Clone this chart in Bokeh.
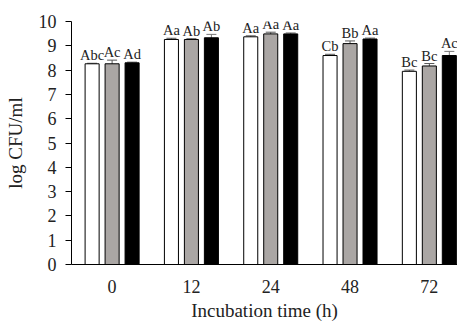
from bokeh.plotting import figure
from bokeh.models import Range1d, FixedTicker, ColumnDataSource, Whisker, TeeHead
from bokeh.embed import file_html
from bokeh.resources import INLINE
from bokeh.core.properties import value

# ---- data ----
times = ["0", "12", "24", "48", "72"]
series_names = ["white", "grey", "black"]
white_vals = [8.26, 9.26, 9.37, 8.60, 7.95]
white_err = [0.02, 0.05, 0.04, 0.05, 0.05]
grey_vals = [8.26, 9.26, 9.49, 9.09, 8.17]
grey_err = [0.15, 0.03, 0.07, 0.11, 0.10]
black_vals = [8.30, 9.33, 9.49, 9.28, 8.60]
black_err = [0.03, 0.14, 0.04, 0.04, 0.17]
white_labels = ["Abc", "Aa", "Aa", "Cb", "Bc"]
grey_labels = ["Ac", "Ab", "Aa", "Bb", "Bc"]
black_labels = ["Ad", "Ab", "Aa", "Aa", "Ac"]
y_ticks = [0, 1, 2, 3, 4, 5, 6, 7, 8, 9, 10]

fills = ["#ffffff", "#aaa6a4", "#000000"]
offsets = [-0.252, 0.0, 0.252]
bar_w = 0.177
FONT = "Liberation Serif"

p = figure(width=457, height=325, output_backend="svg", toolbar_location=None,
           x_range=Range1d(-0.512, 4.355), y_range=Range1d(0, 10),
           min_border_left=71, min_border_right=0, min_border_top=21,
           min_border_bottom=61)
p.outline_line_color = None
p.xgrid.grid_line_color = None
p.ygrid.grid_line_color = None
p.background_fill_color = "white"

all_vals = [white_vals, grey_vals, black_vals]
all_errs = [white_err, grey_err, black_err]
all_labels = [white_labels, grey_labels, black_labels]

for k in range(3):
    xs = [i + offsets[k] for i in range(len(times))]
    vals = all_vals[k]
    errs = all_errs[k]
    src = ColumnDataSource(dict(
        x=xs, top=vals,
        upper=[v + e for v, e in zip(vals, errs)],
        lower=[v - e for v, e in zip(vals, errs)],
        lab=all_labels[k]))
    p.vbar(x="x", top="top", bottom=0, width=bar_w, source=src,
           fill_color=fills[k], line_color="black", line_width=1)
    wcol = "#555555" if k < 2 else "#777777"
    w = Whisker(base="x", upper="upper", lower="lower", source=src,
                line_color=wcol, line_width=1,
                upper_head=TeeHead(size=10, line_color=wcol, line_width=1),
                lower_head=TeeHead(size=10, line_color=wcol, line_width=1))
    p.add_layout(w)
    p.text(x="x", y="upper", text="lab", source=src,
           text_font=value(FONT), text_font_size="14.5px",
           text_align="center", text_baseline="alphabetic",
           y_offset=-8, text_color="#222222")

# x axis
p.xaxis.ticker = FixedTicker(ticks=list(range(len(times))))
p.xaxis.major_label_overrides = {i: t for i, t in enumerate(times)}
p.xaxis.major_tick_line_color = None
p.xaxis.minor_tick_line_color = None
p.xaxis.major_tick_out = 0
p.xaxis.major_tick_in = 0
p.xaxis.major_label_standoff = 15
p.xaxis.axis_label = "Incubation time (h)"
p.xaxis.axis_label_standoff = 4
p.xaxis.axis_line_color = "black"

# y axis
p.yaxis.ticker = FixedTicker(ticks=y_ticks)
p.yaxis.minor_tick_line_color = None
p.yaxis.major_tick_out = 6
p.yaxis.major_tick_in = 0
p.yaxis.major_tick_line_color = "black"
p.yaxis.major_label_standoff = 9
p.yaxis.axis_label = "log CFU/ml"
p.yaxis.axis_label_standoff = 10
p.yaxis.axis_line_color = "black"

for ax in (p.xaxis, p.yaxis):
    ax.major_label_text_font = FONT
    ax.major_label_text_font_size = "18px"
    ax.major_label_text_color = "#222222"
    ax.axis_label_text_font = FONT
    ax.axis_label_text_font_size = "19px"
    ax.axis_label_text_font_style = "normal"
    ax.axis_label_text_color = "#222222"

open("out.html", "w").write(file_html(p, INLINE))
